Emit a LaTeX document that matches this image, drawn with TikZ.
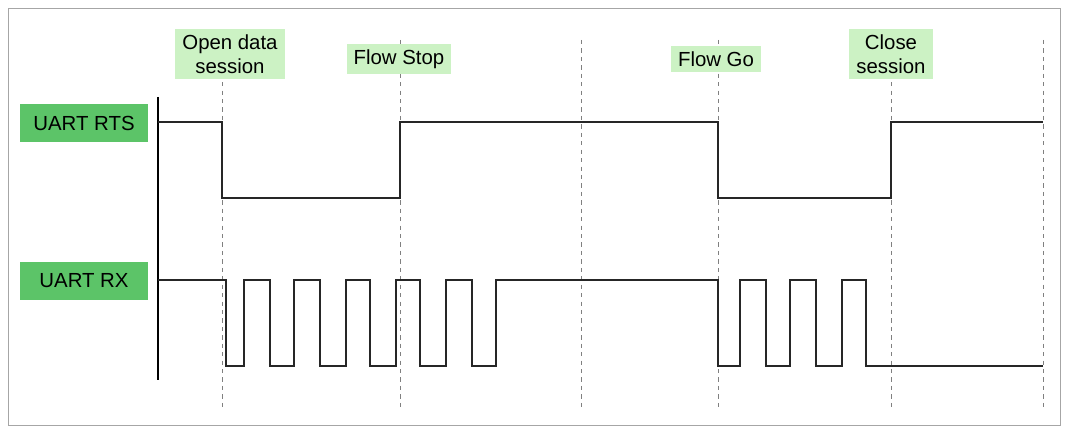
\documentclass[tikz,border=0pt]{standalone}
\usepackage{fontspec}
\setmainfont{Liberation Sans}
\definecolor{sigdark}{RGB}{92,196,104}
\definecolor{evlight}{RGB}{204,242,196}
\begin{document}
\begin{tikzpicture}[x=0.025cm,y=-0.025cm,
            sig label/.style={fill=sigdark,minimum width=128*0.025cm,minimum height=38*0.025cm,font=\fontsize{14.5}{17}\selectfont},
            ev label/.style={fill=evlight,align=center,inner xsep=5pt,inner ysep=4pt,font=\fontsize{14.5}{17}\selectfont},
            ev line/.style={dashed,gray,thin},
            wave/.style={thick,black!85}]

        \useasboundingbox (0,0) rectangle (1068,431);
        \draw[gray!70] (8,8) rectangle (1060,425);

        % Signal labels
        \node[sig label] (rts) at (84,123) {UART RTS};
        \node[sig label] (rx) at (84,281) {UART RX};
        \coordinate (axtop) at (158,97);
        \coordinate (axbot) at (158,380);
        \draw[thick] (axtop) -- (axbot);

        % Event markers
        \foreach \x in {222,400,581,718,891,1043}
            \draw[ev line] (\x,40) -- (\x,408);

        \node[ev label] (open) at (230,54) {Open data\\session};
        \node[ev label] (stop) at (399,59) {Flow Stop};
        \node[ev label] (go) at (716,59) {Flow Go};
        \node[ev label] (close) at (891,54) {Close\\session};

        % Waveforms
        \draw[wave] (158,122) -- (222,122) -- (222,198) -- (400,198) -- (400,122)
            -- (718,122) -- (718,198) -- (891,198) -- (891,122) -- (1043,122);
        \draw[wave] (158,280) -- (226,280) -- (226,366) -- (244,366) -- (244,280)
            -- (270,280) -- (270,366) -- (294,366) -- (294,280) -- (320,280)
            -- (320,366) -- (346,366) -- (346,280) -- (370,280) -- (370,366)
            -- (396,366) -- (396,280) -- (420,280) -- (420,366) -- (446,366)
            -- (446,280) -- (472,280) -- (472,366) -- (496,366) -- (496,280)
            -- (718,280) -- (718,366) -- (740,366) -- (740,280) -- (766,280)
            -- (766,366) -- (790,366) -- (790,280) -- (816,280) -- (816,366)
            -- (842,366) -- (842,280) -- (866,280) -- (866,366) -- (1043,366);

\end{tikzpicture}
\end{document}
